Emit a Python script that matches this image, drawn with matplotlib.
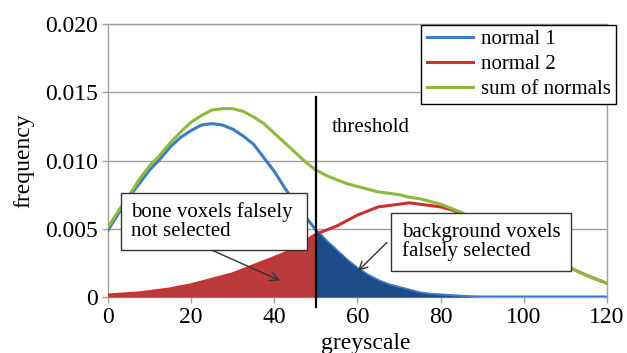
import matplotlib
matplotlib.use("Agg")
import matplotlib.pyplot as plt

# values
greyscale = [0, 2.5, 5, 7.5, 10, 12.5, 15, 17.5, 20, 22.5, 25, 27.5, 30,
             32.5, 35, 37.5, 40, 42.5, 45, 47.5, 50, 52.5, 55, 57.5, 60,
             62.5, 65, 67.5, 70, 72.5, 75, 77.5, 80, 82.5, 85, 87.5, 90,
             95, 100, 105, 110, 115, 120]
normal_1 = [0.0049, 0.0061, 0.0073, 0.0083, 0.0093, 0.0101, 0.0110, 0.0117,
            0.0122, 0.0126, 0.0127, 0.0126, 0.0123, 0.0118, 0.0112, 0.0102,
            0.0092, 0.0080, 0.0069, 0.0059, 0.0049, 0.0041, 0.0034, 0.0027,
            0.0021, 0.0016, 0.0012, 0.0009, 0.0007, 0.0005, 0.0003, 0.0002,
            0.00015, 0.0001, 0.00005, 0.00002, 0.0,
            0.0, 0.0, 0.0, 0.0, 0.0, 0.0]
normal_2 = [0.00015, 0.0002, 0.00025, 0.0003, 0.0004, 0.0005, 0.0006, 0.00075,
            0.0009, 0.0011, 0.0013, 0.0015, 0.0017, 0.0020, 0.0023, 0.0026,
            0.0029, 0.0032, 0.0036, 0.0041, 0.0046, 0.0049, 0.0052, 0.0056,
            0.0060, 0.0063, 0.0066, 0.0067, 0.0068, 0.0069, 0.0068, 0.0067,
            0.0066, 0.0064, 0.0061, 0.0058, 0.0054,
            0.0047, 0.0039, 0.0031, 0.0023, 0.0016, 0.0010]
sum_normals = [0.0051, 0.0063, 0.0074, 0.0086, 0.0096, 0.0104, 0.0113, 0.0121,
               0.0128, 0.0133, 0.0137, 0.0138, 0.0138, 0.0136, 0.0132, 0.0127,
               0.0120, 0.0113, 0.0106, 0.0099, 0.0093, 0.0089, 0.0086, 0.0083,
               0.0081, 0.0079, 0.0077, 0.0076, 0.0075, 0.0073, 0.0072, 0.0070,
               0.0068, 0.0065, 0.0062, 0.0058, 0.0054,
               0.0047, 0.0039, 0.0031, 0.0023, 0.0016, 0.0010]

threshold = 50
x_ticks = [0, 20, 40, 60, 80, 100, 120]
y_ticks = [0, 0.005, 0.010, 0.015, 0.020]
y_tick_labels = ["0", "0.005", "0.010", "0.015", "0.020"]

plt.rcParams["font.family"] = "Liberation Serif"
plt.rcParams["font.size"] = 15

fig = plt.figure(figsize=(6.27, 3.53), dpi=100)
ax = fig.add_axes([0.1722, 0.1586, 0.7958, 0.7734])

grey = "#a0a0a0"
ax.plot(greyscale, normal_1, color="#3b7cc4", lw=2.2, label="normal 1", zorder=3)
ax.plot(greyscale, normal_2, color="#cc3131", lw=2.2, label="normal 2", zorder=3)
ax.plot(greyscale, sum_normals, color="#8cbb3c", lw=2.2, label="sum of normals", zorder=3)

# shaded misclassified areas either side of the threshold
left = [i for i, g in enumerate(greyscale) if g <= threshold]
right = [i for i, g in enumerate(greyscale) if threshold <= g <= 90]
ax.fill_between([greyscale[i] for i in left], 0, [normal_2[i] for i in left],
                color="#bb3b3a", lw=0, zorder=4)
ax.fill_between([greyscale[i] for i in right], 0, [normal_1[i] for i in right],
                color="#1f4b89", lw=0, zorder=4)

ax.plot([threshold, threshold], [-0.0007, 0.01465], color="black", lw=1.6,
        zorder=6, clip_on=False)
ax.text(53.9, 0.01245, "threshold", ha="left", va="center", zorder=6)

arrow = dict(arrowstyle="->", color="#333333", lw=1.0, shrinkA=0, shrinkB=0)
ax.annotate("", xy=(41.4, 0.0012), xytext=(24.5, 0.0035), arrowprops=arrow, zorder=7)
ax.annotate("", xy=(60.1, 0.0019), xytext=(67.1, 0.0040), arrowprops=arrow, zorder=7)
ax.text(5.5, 0.00553, "bone voxels falsely \nnot selected", ha="left", va="center",
        linespacing=0.95, zorder=8,
        bbox=dict(boxstyle="square,pad=0.45", fc="white", ec="#333333", lw=1.0))
ax.text(70.6, 0.00403, "background voxels\nfalsely selected", ha="left", va="center",
        linespacing=0.95, zorder=8,
        bbox=dict(boxstyle="square,pad=0.5", fc="white", ec="#333333", lw=1.0))

ax.set_xlim(0, 120)
ax.set_ylim(0, 0.020)
ax.set_xticks(x_ticks)
ax.set_yticks(y_ticks)
ax.set_yticklabels(y_tick_labels)
ax.yaxis.grid(True, color=grey, lw=1.0)
ax.set_axisbelow(True)
for s in ax.spines.values():
    s.set_color(grey)
    s.set_linewidth(1.0)
ax.tick_params(axis="both", colors=grey, labelcolor="black", length=4, width=1.0,
               labelsize=17)
ax.tick_params(axis="y", pad=3)
ax.tick_params(axis="x", pad=3)

ax.set_xlabel("greyscale", fontsize=17)
ax.xaxis.set_label_coords(0.517, -0.13)
ax.set_ylabel("frequency", fontsize=17)
ax.yaxis.set_label_coords(-0.148, 0.5)

leg = ax.legend(loc="upper right", bbox_to_anchor=(0.999, 0.960),
                bbox_transform=fig.transFigure, frameon=True, fancybox=False,
                framealpha=1, edgecolor="black", borderpad=0.25,
                labelspacing=0.25, handlelength=2.2, handletextpad=0.4)
leg.get_frame().set_linewidth(1.0)
leg.set_zorder(10)

fig.savefig("out.png", dpi=100)
